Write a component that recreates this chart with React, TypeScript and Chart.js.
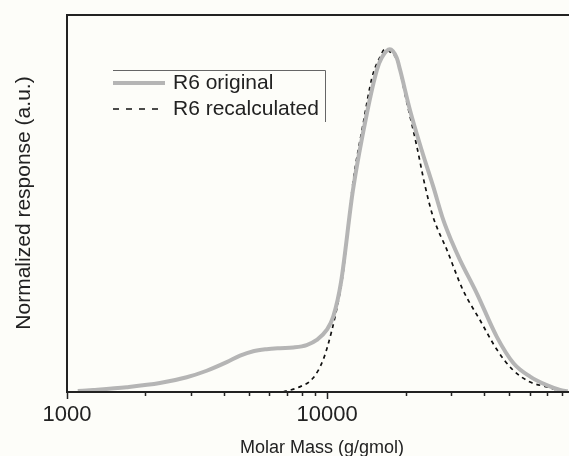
import React, { useEffect, useRef } from "react";
import { Chart, registerables } from "chart.js";

Chart.register(...registerables);

// Molar mass (g/mol) and normalized detector response for each trace
const originalMass = [1100, 1262, 1695, 2275, 2884, 3443, 4110, 4625, 5198, 5850, 6590, 7410, 8340, 9120, 9960, 10550, 11300, 12560, 14220, 15530, 16200, 17400, 18500, 19060, 20800, 23070, 25570, 27940, 30110, 32410, 37590, 44880, 52020, 60260, 69800, 78540, 84000];
const originalResponse = [0.003, 0.006, 0.014, 0.026, 0.043, 0.062, 0.087, 0.106, 0.119, 0.125, 0.128, 0.13, 0.137, 0.152, 0.181, 0.22, 0.32, 0.589, 0.814, 0.94, 0.975, 1.0, 0.975, 0.94, 0.823, 0.706, 0.599, 0.502, 0.439, 0.385, 0.288, 0.161, 0.084, 0.045, 0.02, 0.006, 0.002];

const recalcMass = [6760, 7850, 8810, 9640, 10430, 11190, 11510, 12560, 13700, 14900, 15960, 16670, 17600, 18520, 20260, 22130, 23800, 25530, 28870, 33230, 38650, 44970, 51800, 60260, 70000, 76400, 82000];
const recalcResponse = [0, 0.015, 0.04, 0.093, 0.181, 0.289, 0.347, 0.61, 0.776, 0.92, 0.977, 1.0, 0.99, 0.969, 0.843, 0.715, 0.6, 0.511, 0.414, 0.298, 0.21, 0.123, 0.064, 0.029, 0.015, 0.006, 0.002];

// Axis ticks
const majorTicks = [1000, 10000];
const minorTicks = [2000, 3000, 4000, 5000, 6000, 7000, 8000, 9000, 20000, 30000, 40000, 50000, 60000, 70000, 80000];
const tickLabels = ["1000", "10000"];

const seriesNames = ["R6 original", "R6 recalculated"];
const xTitle = "Molar Mass (g/gmol)";
const yTitle = "Normalized response (a.u.)";

const FONT = "'Liberation Sans', Arial, sans-serif";
const INK = "#222";

const framePlugin = {
  id: "frame",
  beforeDraw(chart: any) {
    const { ctx, width, height } = chart;
    ctx.save();
    ctx.fillStyle = "#fdfdf9";
    ctx.fillRect(0, 0, width, height);
    ctx.restore();
  },
  afterDraw(chart: any) {
    const { ctx, chartArea } = chart;
    const xs = chart.scales.x;
    const { left, right, top, bottom } = chartArea;
    ctx.save();
    ctx.strokeStyle = INK;
    ctx.lineWidth = 2;
    // frame: left, top, bottom
    ctx.beginPath();
    ctx.moveTo(left, top);
    ctx.lineTo(left, bottom);
    ctx.lineTo(right, bottom);
    ctx.moveTo(left - 1, top);
    ctx.lineTo(right, top);
    ctx.stroke();

    // tick marks
    ctx.lineWidth = 1.5;
    ctx.beginPath();
    majorTicks.forEach((v) => {
      const px = Math.round(xs.getPixelForValue(v)) + 0.5;
      ctx.moveTo(px, bottom);
      ctx.lineTo(px, bottom + 7);
    });
    minorTicks.forEach((v) => {
      const px = Math.round(xs.getPixelForValue(v)) + 0.5;
      ctx.moveTo(px, bottom);
      ctx.lineTo(px, bottom + 4);
    });
    ctx.stroke();

    // tick labels
    ctx.fillStyle = INK;
    ctx.font = `22px ${FONT}`;
    ctx.textAlign = "center";
    ctx.textBaseline = "middle";
    majorTicks.forEach((v, i) => {
      ctx.fillText(tickLabels[i], xs.getPixelForValue(v), bottom + 23);
    });

    // axis titles
    ctx.font = `18px ${FONT}`;
    ctx.fillText(xTitle, 322, bottom + 56);
    ctx.save();
    ctx.translate(24, 203);
    ctx.rotate(-Math.PI / 2);
    ctx.font = `21px ${FONT}`;
    ctx.fillText(yTitle, 0, 0);
    ctx.restore();

    // legend
    const lx = left + 46;
    const lr = left + 258;
    const ly = top + 55;
    ctx.strokeStyle = "#666";
    ctx.lineWidth = 1;
    ctx.beginPath();
    ctx.moveTo(lx, ly + 0.5);
    ctx.lineTo(lr + 0.5, ly + 0.5);
    ctx.lineTo(lr + 0.5, ly + 52);
    ctx.stroke();

    const ds = chart.data.datasets;
    const rows = [ly + 13, ly + 39];
    ds.forEach((d: any, i: number) => {
      ctx.save();
      ctx.strokeStyle = d.borderColor;
      ctx.lineWidth = d.borderWidth;
      ctx.setLineDash(i === 1 ? [6, 7] : []);
      ctx.beginPath();
      ctx.moveTo(lx, rows[i]);
      ctx.lineTo(lx + 52, rows[i]);
      ctx.stroke();
      ctx.restore();
      ctx.fillStyle = INK;
      ctx.font = `21px ${FONT}`;
      ctx.textAlign = "left";
      ctx.textBaseline = "middle";
      ctx.fillText(d.label, lx + 60, rows[i]);
    });
    ctx.restore();
  },
};

export default function App() {
  const ref = useRef<HTMLCanvasElement | null>(null);

  useEffect(() => {
    if (!ref.current) return;
    const chart = new Chart(ref.current, {
      type: "line",
      data: {
        datasets: [
          {
            label: seriesNames[0],
            data: originalMass.map((m, i) => ({ x: m, y: originalResponse[i] })),
            borderColor: "#b5b5b5",
            borderWidth: 4,
            pointRadius: 0,
            cubicInterpolationMode: "monotone",
            fill: false,
          },
          {
            label: seriesNames[1],
            data: recalcMass.map((m, i) => ({ x: m, y: recalcResponse[i] })),
            borderColor: "#111",
            borderWidth: 1.7,
            borderDash: [4, 4],
            pointRadius: 0,
            cubicInterpolationMode: "monotone",
            fill: false,
          },
        ],
      },
      options: {
        animation: false,
        responsive: false,
        layout: { padding: { left: 67, top: 15, right: 0, bottom: 64 } },
        plugins: { legend: { display: false }, tooltip: { enabled: false } },
        scales: {
          x: { type: "logarithmic", min: 1000, max: 85000, display: false },
          y: { type: "linear", min: 0, max: 1.1, display: false },
        },
      },
      plugins: [framePlugin],
    });
    return () => chart.destroy();
  }, []);

  return (
    <div style={{ position: "absolute", left: 0, top: 0, width: 569, height: 456, overflow: "hidden" }}>
      <canvas ref={ref} width={569} height={456} />
    </div>
  );
}
